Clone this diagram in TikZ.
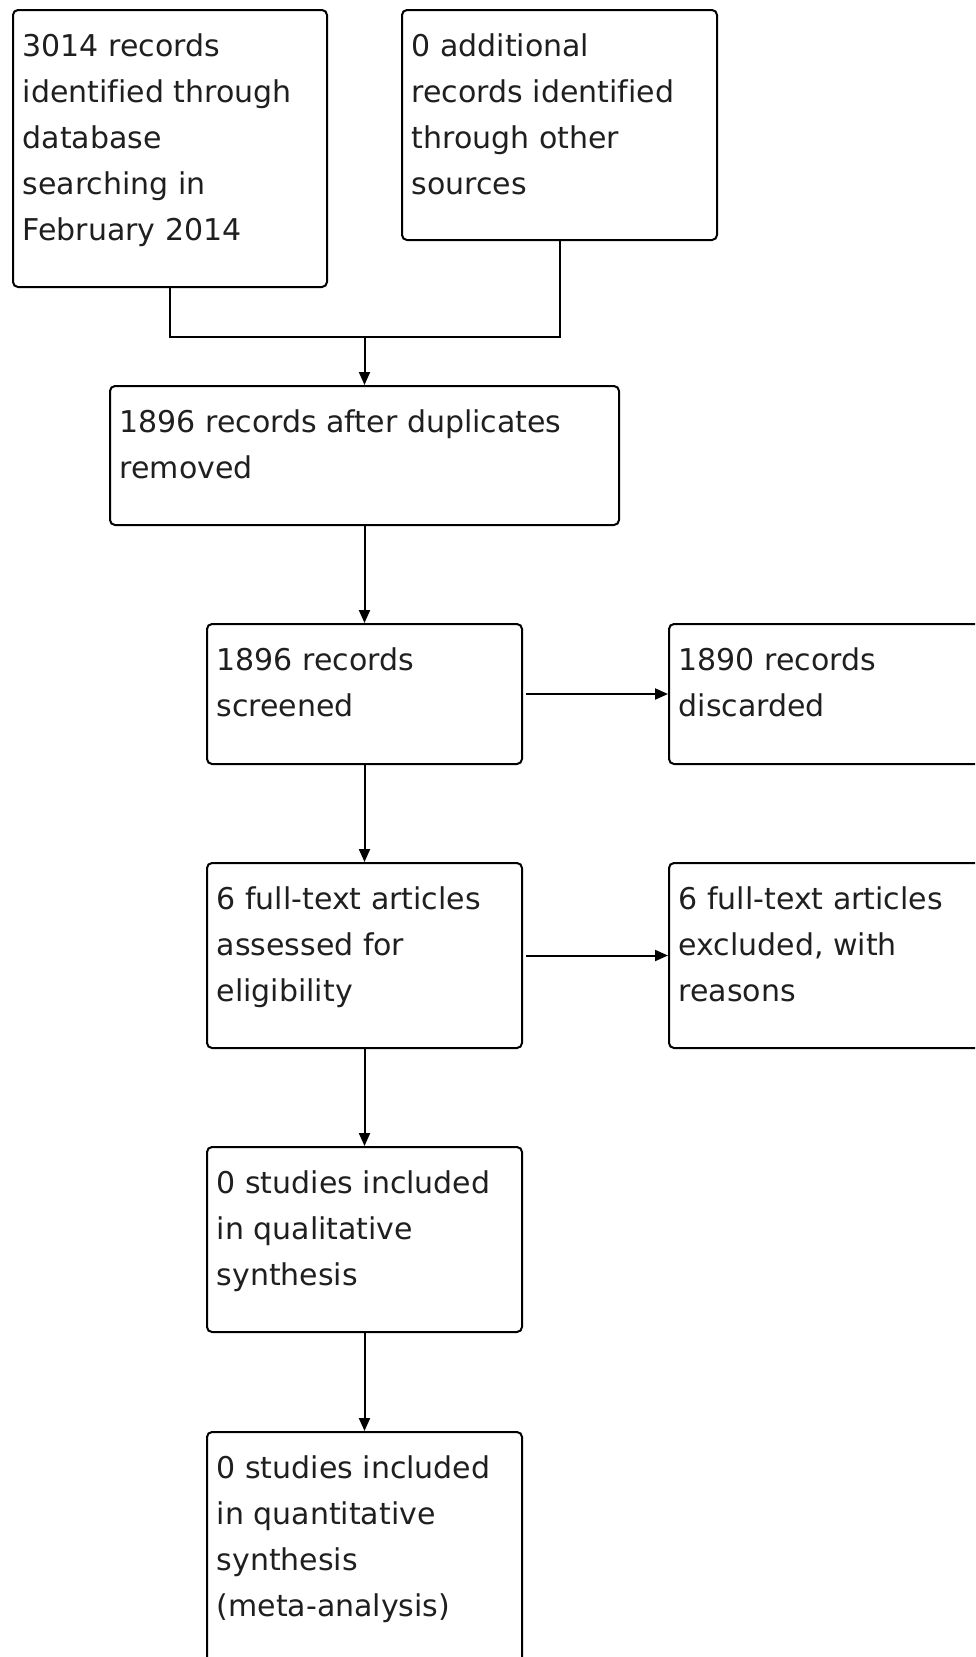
\documentclass[tikz,border=0pt]{standalone}
\usepackage{fontspec}
\setmainfont{DejaVu Sans}[Ligatures=CommonOff]
\usetikzlibrary{arrows.meta,calc}
\tikzset{
  box/.style={draw=black, line width=2pt, rounded corners=5pt, fill=white, inner sep=0pt, anchor=north west},
  txt/.style={anchor=base west, inner sep=0pt, text=black!88},
  conn/.style={draw=black, line width=2pt},
  arr/.style={conn, -{Triangle[length=13pt,width=11pt]}},
}
\newcommand{\boxtext}[1]{\parbox[t]{460pt}{\fontsize{30pt}{46.2pt}\selectfont #1}}
\begin{document}
\begin{tikzpicture}[x=1pt,y=-1pt]
\path[use as bounding box, fill=white] (0,0) rectangle (975,1657);
\clip (0,0) rectangle (975,1657);
% boxes
\node[box, minimum width=314pt, minimum height=277pt] (b1) at (12,9) {};
\node[box, minimum width=315pt, minimum height=230pt] (b2) at (401,9) {};
\node[box, minimum width=509pt, minimum height=139pt] (b3) at (109,385) {};
\node[box, minimum width=315pt, minimum height=140pt] (b4) at (206,623) {};
\node[box, minimum width=340pt, minimum height=140pt] (b5) at (668,623) {};
\node[box, minimum width=315pt, minimum height=185pt] (b6) at (206,862) {};
\node[box, minimum width=340pt, minimum height=185pt] (b7) at (668,862) {};
\node[box, minimum width=315pt, minimum height=185pt] (b8) at (206,1146) {};
\node[box, minimum width=315pt, minimum height=300pt] (b9) at (206,1431) {};
% texts
\node[txt] (t1) at ($(b1.north west)+(10.5,47)$) {\boxtext{3014 records\\identified through\\database\\searching in\\February 2014}};
\node[txt] (t2) at ($(b2.north west)+(10.5,47)$) {\boxtext{0 additional\\records identified\\through other\\sources}};
\node[txt] (t3) at ($(b3.north west)+(10.5,47)$) {\boxtext{1896 records after duplicates\\removed}};
\node[txt] (t4) at ($(b4.north west)+(10.5,47)$) {\boxtext{1896 records\\screened}};
\node[txt] (t5) at ($(b5.north west)+(10.5,47)$) {\boxtext{1890 records\\discarded}};
\node[txt] (t6) at ($(b6.north west)+(10.5,47)$) {\boxtext{6 full-text articles\\assessed for\\eligibility}};
\node[txt] (t7) at ($(b7.north west)+(10.5,47)$) {\boxtext{6 full-text articles\\excluded, with\\reasons}};
\node[txt] (t8) at ($(b8.north west)+(10.5,47)$) {\boxtext{0 studies included\\in qualitative\\synthesis}};
\node[txt] (t9) at ($(b9.north west)+(10.5,47)$) {\boxtext{0 studies included\\in quantitative\\synthesis\\(meta-analysis)}};
% connectors
\coordinate (jy) at (0,337);
\coordinate (j) at (b3.north |- jy);
\draw[conn] (b1.south) |- (j) -| (b2.south);
\draw[arr] (j) -- (b3.north);
\draw[arr] (b3.south) -- (b4.north);
\draw[arr] (b4.south) -- (b6.north);
\draw[arr] (b6.south) -- (b8.north);
\draw[arr] (b8.south) -- (b9.north);
\draw[arr] ([xshift=3pt]b4.east) -- (b5.west);
\draw[arr] ([xshift=3pt]b6.east) -- (b7.west);
\end{tikzpicture}
\end{document}
